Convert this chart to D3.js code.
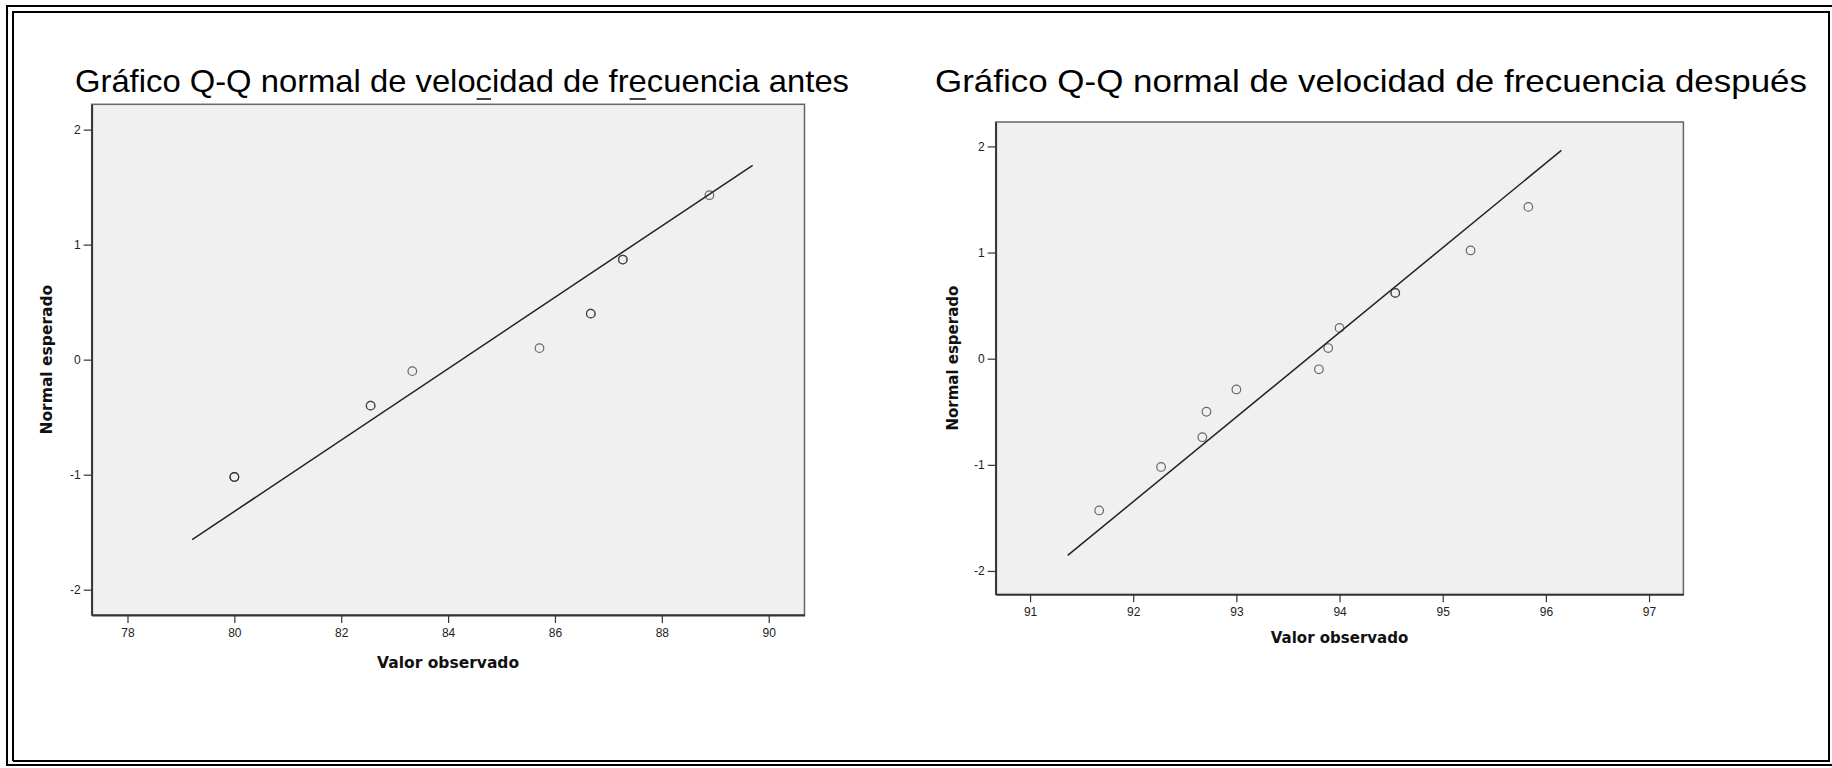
<!DOCTYPE html>
<html>
<head>
<meta charset="utf-8">
<script src="https://cdn.jsdelivr.net/npm/d3@7"></script>
<style>
  body { margin: 0; background: #fff; }
  svg { display: block; }
</style>
</head>
<body>
<svg id="lienzo"></svg>
<script>
// valores
const antesObservado = [80, 80, 80, 82.55, 82.55, 83.33, 85.71, 86.67, 86.67, 87.27, 87.27, 88.89];
const antesEsperado = [-1.02, -1.02, -1.02, -0.40, -0.40, -0.10, 0.10, 0.40, 0.40, 0.87, 0.87, 1.43];
const antesLineaX = [79.21, 89.70];
const antesLineaY = [-1.565, 1.69];
const antesTicksX = [78, 80, 82, 84, 86, 88, 90];

const despuesObservado = [91.67, 92.27, 92.67, 92.71, 93.00, 93.80, 93.89, 94.00, 94.54, 94.54, 95.27, 95.83];
const despuesEsperado = [-1.43, -1.02, -0.74, -0.50, -0.29, -0.10, 0.10, 0.29, 0.62, 0.62, 1.02, 1.43];
const despuesLineaX = [91.365, 96.15];
const despuesLineaY = [-1.854, 1.963];
const despuesTicksX = [91, 92, 93, 94, 95, 96, 97];

const ticksY = [-2, -1, 0, 1, 2];

const W = 1832, H = 768;
const svg = d3.select("#lienzo").attr("width", W).attr("height", H);

// marco doble exterior
const marco = svg.append("g").attr("fill", "none").attr("stroke", "#000").attr("stroke-width", 2);
marco.append("path").attr("d", "M7,766 V6 H1832");
marco.append("path").attr("d", "M13,761 V12 H1829 V761 H13");
marco.append("path").attr("d", "M7,765 H1832");

function drawQQ(opt) {
    let x = d3.scaleLinear().domain(opt.domX).range([opt.box.left, opt.box.right]);
    let y = d3.scaleLinear().domain(opt.domY).range([opt.box.bottom, opt.box.top]);
    let g = svg.append("g");
    let fmt = function(d) { return String(d); };

    // titulo
    let t = g.append("text")
        .attr("x", opt.title.x)
        .attr("y", opt.title.y)
        .attr("font-family", "Liberation Sans, Arial, sans-serif")
        .attr("font-size", 32)
        .attr("fill", "#000")
        .attr("textLength", opt.title.width)
        .attr("lengthAdjust", "spacingAndGlyphs")
        .text(opt.title.text);
    (opt.title.marks || []).forEach(function(i) {
        let ext = t.node().getExtentOfChar(i);
        g.append("line")
            .attr("x1", ext.x + 1).attr("x2", ext.x + ext.width - 1)
            .attr("y1", opt.title.y + 7.5).attr("y2", opt.title.y + 7.5)
            .attr("stroke", "#000").attr("stroke-width", 1.5);
    });

    // fondo del area
    g.append("rect")
        .attr("x", opt.box.left).attr("y", opt.box.top)
        .attr("width", opt.box.right - opt.box.left)
        .attr("height", opt.box.bottom - opt.box.top)
        .attr("fill", "#f0f0f0")
        .attr("stroke", "#666")
        .attr("stroke-width", 1.5);

    let ax = g.append("g")
        .attr("transform", "translate(0," + opt.box.bottom + ")")
        .call(d3.axisBottom(x).tickValues(opt.ticksX).tickFormat(fmt).tickSize(8).tickPadding(5).tickSizeOuter(0));
    let ay = g.append("g")
        .attr("transform", "translate(" + opt.box.left + ",0)")
        .call(d3.axisLeft(y).tickValues(ticksY).tickFormat(fmt).tickSize(8).tickPadding(3).tickSizeOuter(0));
    [ax, ay].forEach(function(a) {
        a.select(".domain").attr("stroke", "#333").attr("stroke-width", 1.8);
        a.selectAll(".tick line").attr("stroke", "#333").attr("stroke-width", 1.2);
        a.selectAll(".tick text")
            .attr("font-family", "Liberation Sans, Arial, sans-serif")
            .attr("font-size", 12)
            .attr("fill", "#222");
    });

    // linea de referencia
    g.append("line")
        .attr("x1", x(opt.lineX[0])).attr("y1", y(opt.lineY[0]))
        .attr("x2", x(opt.lineX[1])).attr("y2", y(opt.lineY[1]))
        .attr("stroke", "#222")
        .attr("stroke-width", 1.5);

    // puntos
    g.selectAll(".punto")
        .data(opt.obs)
        .enter().append("circle")
        .attr("class", "punto")
        .attr("cx", function(d) { return x(d); })
        .attr("cy", function(d, i) { return y(opt.esp[i]); })
        .attr("r", 4.3)
        .attr("fill", "none")
        .attr("stroke", "#333")
        .attr("stroke-opacity", 0.72)
        .attr("stroke-width", 1.2);

    // titulos de ejes
    g.append("text")
        .attr("x", (opt.box.left + opt.box.right) / 2)
        .attr("y", opt.labelX.y)
        .attr("dy", "0.35em")
        .attr("text-anchor", "middle")
        .attr("font-family", "DejaVu Sans, Verdana, sans-serif")
        .attr("font-weight", "bold")
        .attr("font-size", opt.labelSize)
        .attr("fill", "#111")
        .text("Valor observado");
    g.append("text")
        .attr("transform", "translate(" + opt.labelY.x + "," + (opt.box.top + opt.box.bottom) / 2 + ") rotate(-90)")
        .attr("dy", "0.35em")
        .attr("text-anchor", "middle")
        .attr("font-family", "DejaVu Sans, Verdana, sans-serif")
        .attr("font-weight", "bold")
        .attr("font-size", opt.labelSize)
        .attr("fill", "#111")
        .text("Normal esperado");
}

drawQQ({
    box: {left: 91.7, top: 104.3, right: 804.5, bottom: 615},
    domX: [77.33, 90.67], domY: [-2.22, 2.22],
    ticksX: antesTicksX,
    obs: antesObservado, esp: antesEsperado,
    lineX: antesLineaX, lineY: antesLineaY,
    title: {text: "Gráfico Q-Q normal de velocidad de frecuencia antes", x: 75, y: 91.5, width: 774, marks: [26, 37]},
    labelX: {y: 663}, labelY: {x: 47},
    labelSize: 15.5
});

drawQQ({
    box: {left: 995.7, top: 122, right: 1683.4, bottom: 594.3},
    domX: [90.667, 97.333], domY: [-2.22, 2.23],
    ticksX: despuesTicksX,
    obs: despuesObservado, esp: despuesEsperado,
    lineX: despuesLineaX, lineY: despuesLineaY,
    title: {text: "Gráfico Q-Q normal de velocidad de frecuencia después", x: 935, y: 91.5, width: 872},
    labelX: {y: 638}, labelY: {x: 953},
    labelSize: 15
});
</script>
</body>
</html>
